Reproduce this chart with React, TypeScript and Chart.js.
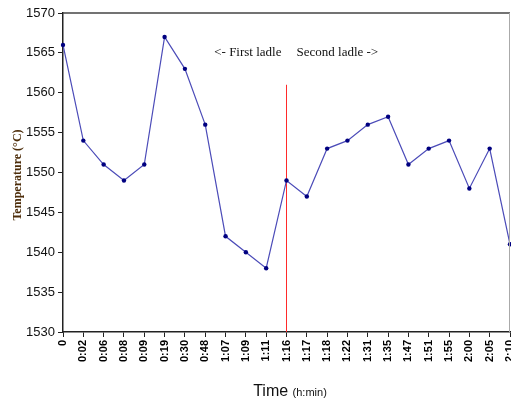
import React, { useEffect, useRef } from "react";
import { Chart, registerables } from "chart.js";

Chart.register(...registerables);

const categories = [
  "0", "0:02", "0:06", "0:08", "0:09", "0:19", "0:30", "0:48", "1:07", "1:09", "1:11", "1:16",
  "1:17", "1:18", "1:22", "1:31", "1:35", "1:47", "1:51", "1:55", "2:00", "2:05", "2:10",
];
const temperatures = [
  1566, 1554, 1551, 1549, 1551, 1567, 1563, 1556, 1542, 1540, 1538, 1549,
  1547, 1553, 1554, 1556, 1557, 1551, 1553, 1554, 1548, 1553, 1541,
];
const dividerCategory = "1:16";
const dividerRange = [1530, 1561];
const yMin = 1530;
const yMax = 1570;
const yStep = 5;
const leftNote = "<- First ladle";
const rightNote = "Second ladle ->";
const noteValue = 1565;
const yTitle = "Temperature (°C)";
const xTitleMain = "Time";
const xTitleUnit = "(h:min)";

const NARROW = "'Liberation Sans Narrow', 'Arial Narrow', 'Liberation Sans', Arial, sans-serif";

export default function App() {
  const ref = useRef<HTMLCanvasElement | null>(null);

  useEffect(() => {
    document.body.style.margin = "0";
    const canvas = ref.current;
    if (!canvas) return;

    const decor = {
      id: "decor",
      afterDraw(chart: any) {
        const ctx = chart.ctx;
        const x = chart.scales.x;
        const y = chart.scales.y;
        const area = chart.chartArea;
        ctx.save();
        // top border
        ctx.strokeStyle = "#444";
        ctx.lineWidth = 1.5;
        ctx.beginPath();
        ctx.moveTo(area.left, area.top);
        ctx.lineTo(area.right, area.top);
        ctx.stroke();
        // right border
        ctx.strokeStyle = "#aaa";
        ctx.lineWidth = 1;
        ctx.beginPath();
        ctx.moveTo(area.right - 0.5, area.top);
        ctx.lineTo(area.right - 0.5, area.bottom);
        ctx.stroke();

        // notes
        const dx = x.getPixelForValue(categories.indexOf(dividerCategory));
        const ny = y.getPixelForValue(noteValue);
        ctx.fillStyle = "#111";
        ctx.font = "13px 'Liberation Serif', 'Times New Roman', serif";
        ctx.textBaseline = "middle";
        ctx.textAlign = "right";
        ctx.fillText(leftNote, dx - 5, ny);
        ctx.textAlign = "left";
        ctx.fillText(rightNote, dx + 10, ny);

        // x title
        ctx.textBaseline = "alphabetic";
        ctx.font = `16px ${NARROW}`;
        const w1 = ctx.measureText(xTitleMain + " ").width;
        ctx.font = `11px ${NARROW}`;
        const w2 = ctx.measureText(xTitleUnit).width;
        const cx = 290;
        const start = cx - (w1 + w2) / 2;
        ctx.textAlign = "left";
        ctx.font = `16px ${NARROW}`;
        ctx.fillText(xTitleMain + " ", start, 396);
        ctx.font = `11px ${NARROW}`;
        ctx.fillText(xTitleUnit, start + w1, 396);

        // y title
        ctx.translate(18, 175);
        ctx.rotate(-Math.PI / 2);
        ctx.font = "bold 12px 'Liberation Serif', 'Times New Roman', serif";
        ctx.fillStyle = "#4d2d0a";
        ctx.textAlign = "center";
        ctx.textBaseline = "middle";
        ctx.fillText(yTitle, 0, 0);
        ctx.restore();
      },
    };

    const chart = new Chart(canvas, {
      type: "line",
      data: {
        labels: categories,
        datasets: [
          {
            data: temperatures,
            borderColor: "#4b4bb8",
            borderWidth: 1.2,
            pointRadius: 2.2,
            pointBackgroundColor: "#000080",
            pointBorderColor: "#000080",
            pointBorderWidth: 0,
            tension: 0,
          },
          {
            data: dividerRange.map((v) => ({ x: dividerCategory, y: v })),
            borderColor: "#ff2a2a",
            borderWidth: 1,
            pointRadius: 0,
          } as any,
        ],
      },
      options: {
        animation: false,
        responsive: false,
        devicePixelRatio: 1,
        layout: { autoPadding: false, padding: { top: 13, right: 1, left: 0, bottom: 0 } },
        plugins: { legend: { display: false }, tooltip: { enabled: false } },
        scales: {
          x: {
            type: "category",
            offset: false,
            grid: {
              display: true,
              drawOnChartArea: false,
              drawTicks: true,
              tickLength: 5,
              color: "#222",
            },
            border: { color: "#222", width: 1.5 },
            ticks: {
              autoSkip: false,
              maxRotation: 90,
              minRotation: 90,
              color: "#000",
              font: { family: "'Liberation Sans', Arial, sans-serif", size: 11, weight: "bold" },
              padding: 3,
            },
            afterFit(scale: any) {
              scale.height = 73;
              scale.paddingLeft = 0;
              scale.paddingRight = 0;
            },
          },
          y: {
            min: yMin,
            max: yMax,
            grid: {
              display: true,
              drawOnChartArea: false,
              drawTicks: true,
              tickLength: 5,
              color: "#222",
            },
            border: { color: "#222", width: 1.5 },
            ticks: {
              stepSize: yStep,
              color: "#111",
              font: { family: NARROW, size: 13 },
              padding: 3,
              callback: (v: any) => String(v),
            },
            afterFit(scale: any) {
              scale.width = 63;
              scale.paddingTop = 0;
              scale.paddingBottom = 0;
            },
          },
        },
      },
      plugins: [decor],
    } as any);

    return () => chart.destroy();
  }, []);

  return <canvas ref={ref} width={511} height={405} style={{ display: "block" }} />;
}
